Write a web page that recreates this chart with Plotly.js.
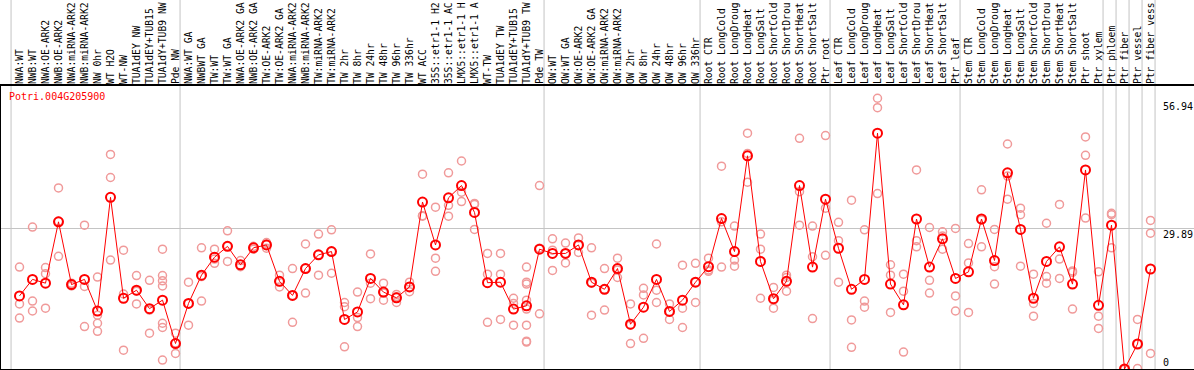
<!DOCTYPE html>
<html>
<head>
<meta charset="utf-8">
<script src="https://cdn.plot.ly/plotly-3.0.1.min.js"></script>
<style>html,body{margin:0;padding:0;background:#fff;}#chart{width:1194px;height:370px;}</style>
</head>
<body>
<div id="chart"></div>
<script>
const geneName = "Potri.004G205900";

// category labels as they are shown in the reference (long names appear truncated there)
const categories = [
  "NWA:WT","NWB:WT","NWA:OE-ARK2","NWB:OE-ARK2","NWA:miRNA-ARK2","NWB:miRNA-ARK2","NW 0hr","WT H2O","WT-NW","TUA1dEY NW","TUA1dEY+TUB15","TUA1dY+TUB9 NW","Pde NW",
  "NWA:WT GA","NWBWT GA","TW:WT","TW:WT GA","NWA:OE-ARK2 GA","NWB:OE-ARK2 GA","TW:OE-ARK2","TW:OE-ARK2 GA","NWA:miRNA-ARK2","NWB:miRNA-ARK2","TW:miRNA-ARK2","TW:miRNA-ARK2",
  "TW 2hr","TW 8hr","TW 24hr","TW 48hr","TW 96hr","TW 336hr","WT ACC","35S::etr1-1 H2","35S::etr1-1 AC","LMX5::etr1-1 H","LMX5::etr1-1 A","WT-TW","TUA1dEY TW","TUA1dEY+TUB15","TUA1dY+TUB9 TW","Pde TW",
  "OW:WT","OW:WT GA","OW:OE-ARK2","OW:OE-ARK2 GA","OW:miRNA-ARK2","OW:miRNA-ARK2","OW 2hr","OW 8hr","OW 24hr","OW 48hr","OW 96hr","OW 336hr",
  "Root CTR","Root LongCold","Root LongDroug","Root LongHeat","Root LongSalt","Root ShortCold","Root ShortDrou","Root ShortHeat","Root ShortSalt","Ptr root",
  "Leaf CTR","Leaf LongCold","Leaf LongDroug","Leaf LongHeat","Leaf LongSalt","Leaf ShortCold","Leaf ShortDrou","Leaf ShortHeat","Leaf ShortSalt","Ptr leaf",
  "Stem CTR","Stem LongCold","Stem LongDroug","Stem LongHeat","Stem LongSalt","Stem ShortCold","Stem ShortDrou","Stem ShortHeat","Stem ShortSalt","Ptr shoot",
  "Ptr xylem","Ptr phloem","Ptr fiber","Ptr vessel","Ptr fiber vess"
];

const meanValues = [
  15.5,19.0,18.2,31.2,17.9,19.0,12.3,36.4,15.0,16.7,12.8,14.6,5.4,
  13.9,19.9,23.7,26.0,22.1,25.7,26.3,18.6,15.6,21.3,24.2,24.9,
  10.5,12.1,19.2,16.3,15.1,17.4,35.4,26.3,36.3,38.9,33.2,18.3,18.4,12.7,13.4,25.4,
  24.5,24.5,26.3,18.4,16.9,21.3,9.5,13.1,19.0,12.2,14.6,18.4,
  21.7,31.9,24.9,45.2,22.8,14.9,18.6,38.9,21.6,36.0,
  25.6,16.9,19.0,50.0,18.0,13.6,31.8,21.6,27.6,19.2,
  20.6,31.8,23.0,41.6,29.6,15.0,22.8,25.9,18.0,42.2,
  13.5,30.5,0.0,5.3,21.2
];

const replicateValues = [
  [21.6,13.8,10.8],[30.1,14.4,12.3],[21.5,20.2,12.9],[38.4,31.3,23.9],[18.2,17.6,17.9],[30.5,17.5,9.0],[19.5,11.4,9.7,8.0],[45.5,40.6,23.1],[25.2,15.9,4.0],[19.8,16.5,13.8],[18.8,12.5,7.6],[25.4,19.8,18.7,17.6,9.7,8.8,1.9],[7.6,5.5,3.3],
  [18.4,13.9,9.3],[25.7,19.6,14.4],[25.4,23.3,22.4],[29.3,26.0,22.8],[23.0,21.7],[26.0,25.4],[26.8,26.5,25.6],[19.9,18.5,17.4],[21.3,15.6,9.9],[26.5,21.3,16.1],[28.6,24.2,19.9],[29.5,24.9,20.3],
  [14.1,13.2,4.7],[16.3,10.9,9.0],[24.4,18.2,14.9],[18.2,16.1,14.6],[15.8,15.3,14.1],[18.4,17.4,16.4],[41.3,32.4,32.5],[34.3,23.5,20.7],[41.6,34.7,32.4],[44.1,37.5,35.5],[35.1,34.9,29.6],[24.5,20.1,9.9],[24.5,20.1,10.5],[15.0,13.9,9.3],[21.6,18.4,18.0,14.6,12.7,9.3,5.9,5.7],[38.9,25.6,11.7],
  [27.6,25.2,20.9],[26.7,24.5,22.5],[27.8,26.3,24.7],[25.7,18.2,11.4],[21.3,16.9,12.5],[23.5,21.0,19.4],[13.8,9.3,5.4],[17.1,15.7,6.5],[26.5,16.7,14.1],[13.8,12.2,10.5],[22.0,12.9,8.8],[22.4,18.4,14.1],
  [23.5,21.0,20.7],[43.0,31.2,21.6],[30.3,23.1,21.8],[50.0,45.7,39.6],[28.6,25.4,15.0],[17.3,14.6,12.9],[19.9,19.4,16.5],[48.9,37.6,30.5],[30.3,23.8,10.7],[49.5,34.1,24.1],
  [31.1,27.2,18.4],[35.8,10.4,4.6],[29.5,14.4,13.1],[57.4,55.4,37.2],[22.1,19.9,12.0],[20.1,16.5,3.6],[42.2,27.2,25.9],[30.0,18.8,16.1],[29.1,28.2,25.4],[29.8,15.5,12.3],
  [26.6,22.5,12.0],[38.0,31.6,25.9],[29.6,21.7,18.0],[47.7,40.9,36.0],[34.1,32.7,21.8],[20.1,13.9,11.2],[30.9,19.6,18.2],[34.9,23.3,19.2],[20.8,20.5,12.7],[49.2,45.3,32.0],
  [20.6,11.2,8.6],[33.0,32.7,25.7],[0.0,0.0,0.0],[10.5,5.3,0.1],[31.5,28.8,3.3]
];

// group separators: a line just after these category indices
const separatorAfter = [-1,12,40,52,62,72,83,84,85,86,87];

const yTickVals = [56.94, 29.89, 0];
const yTickText = ["56.94", "29.89", "0"];

const idx = categories.map((_, i) => i);
const repX = [], repY = [];
replicateValues.forEach((arr, i) => arr.forEach(v => { repX.push(i); repY.push(v); }));

const FONT = "DejaVu Sans Mono, Liberation Mono, monospace";

const traces = [
  {
    x: repX, y: repY, type: "scatter", mode: "markers",
    marker: {symbol: "circle-open", size: 8, color: "#f09a9a", line: {width: 1.5, color: "#f09a9a"}},
    hoverinfo: "y", showlegend: false
  },
  {
    x: idx, y: meanValues, type: "scatter", mode: "lines+markers",
    line: {color: "#ff0000", width: 1},
    marker: {symbol: "circle-open", size: 9, color: "#ff0000", line: {width: 2, color: "#ff0000"}},
    hoverinfo: "y", showlegend: false
  }
];

const xA = -18.5 / 13;
const shapes = separatorAfter.map(k => ({
  type: "line", xref: "x", yref: "paper", x0: k + 0.35, x1: k + 0.35, y0: 0, y1: 1 + 86 / 283,
  line: {color: "#c4c4c4", width: 1}, layer: "below"
}));

const annotations = yTickVals.map((v, j) => ({
  xref: "paper", yref: "y", x: (1162 - 1) / 1193, y: v,
  xanchor: "left", yanchor: v === 0 ? "bottom" : "top",
  text: yTickText[j], showarrow: false, borderpad: 0,
  font: {family: FONT, size: 10, color: "#000"}
}));

const layout = {
  width: 1194, height: 370,
  margin: {l: 1, r: 0, t: 86, b: 1, pad: 0},
  paper_bgcolor: "#fff", plot_bgcolor: "#fff",
  title: {
    text: geneName, xref: "container", yref: "container",
    x: 9 / 1194, xanchor: "left", y: 1 - 93 / 370, yanchor: "top",
    font: {family: FONT, size: 10, color: "#ff0000"}
  },
  xaxis: {
    side: "top", range: [xA, xA + 1193 / 13],
    tickmode: "array", tickvals: idx, ticktext: categories, tickangle: -90,
    tickfont: {family: FONT, size: 9.7, color: "#000"},
    ticklabelstandoff: -2,
    ticks: "", showgrid: false, zeroline: false,
    showline: true, mirror: true, linecolor: "#000", linewidth: 2
  },
  yaxis: {
    range: [0, 60], tickmode: "array", tickvals: [yTickVals[1]],
    showticklabels: false, ticks: "",
    showgrid: true, gridcolor: "#c4c4c4", gridwidth: 1,
    zeroline: false, showline: true, linecolor: "#000", linewidth: 2
  },
  shapes: shapes,
  annotations: annotations,
  showlegend: false,
  hovermode: false
};

Plotly.newPlot("chart", traces, layout, {displayModeBar: false, staticPlot: true});
</script>
</body>
</html>
